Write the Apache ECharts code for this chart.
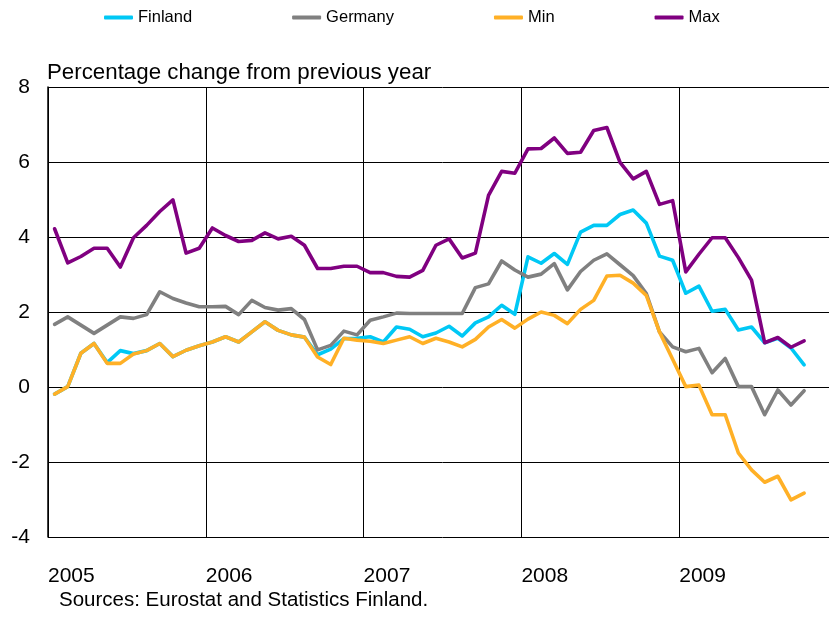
<!DOCTYPE html>
<html>
<head>
<meta charset="utf-8">
<script src="https://cdn.jsdelivr.net/npm/echarts@6/dist/echarts.min.js"></script>
<style>
  html, body { margin: 0; padding: 0; background: #fff; overflow: hidden; }
  /* the plot runs on past the right edge of the window */
  #chart { width: 837px; height: 617px; }
</style>
</head>
<body>
<div id="chart"></div>
<script>
// Monthly inflation, percentage change from previous year, Jan 2005 – Oct 2009
const years = ['2005', '2006', '2007', '2008', '2009'];
const monthNames = ['01', '02', '03', '04', '05', '06', '07', '08', '09', '10', '11', '12'];
const yTicks = [-4, -2, 0, 2, 4, 6, 8];

const finland = [
  -0.19, 0.01, 0.90, 1.16, 0.65, 0.97, 0.89, 0.97, 1.16, 0.81, 0.98, 1.10,
  1.20, 1.34, 1.20, 1.47, 1.74, 1.51, 1.39, 1.33, 0.86, 1.01, 1.29, 1.30,
  1.34, 1.20, 1.60, 1.54, 1.34, 1.44, 1.62, 1.36, 1.71, 1.87, 2.18, 1.94,
  3.47, 3.30, 3.56, 3.27, 4.13, 4.31, 4.31, 4.60, 4.72, 4.37, 3.49, 3.38,
  2.50, 2.69, 2.02, 2.07, 1.52, 1.60, 1.18, 1.30, 1.04, 0.59
];
const germany = [
  1.67, 1.87, 1.65, 1.43, 1.65, 1.87, 1.83, 1.93, 2.54, 2.36, 2.24, 2.14,
  2.14, 2.15, 1.93, 2.31, 2.12, 2.05, 2.09, 1.80, 0.99, 1.11, 1.49, 1.39,
  1.78, 1.87, 1.97, 1.96, 1.96, 1.96, 1.96, 1.96, 2.65, 2.75, 3.36, 3.12,
  2.93, 3.01, 3.29, 2.59, 3.08, 3.38, 3.55, 3.26, 2.97, 2.49, 1.47, 1.07,
  0.94, 1.03, 0.38, 0.76, 0.01, 0.01, -0.74, -0.08, -0.48, -0.10
];
const minimum = [
  -0.19, 0.01, 0.90, 1.16, 0.63, 0.63, 0.88, 0.97, 1.16, 0.81, 0.98, 1.10,
  1.20, 1.34, 1.20, 1.47, 1.74, 1.51, 1.39, 1.33, 0.80, 0.60, 1.30, 1.25,
  1.22, 1.16, 1.25, 1.34, 1.16, 1.30, 1.20, 1.07, 1.27, 1.60, 1.80, 1.57,
  1.81, 2.00, 1.91, 1.69, 2.07, 2.31, 2.96, 2.98, 2.77, 2.44, 1.47, 0.74,
  0.01, 0.05, -0.74, -0.74, -1.76, -2.21, -2.54, -2.38, -3.01, -2.83
];
const maximum = [
  4.22, 3.31, 3.48, 3.70, 3.70, 3.20, 3.98, 4.31, 4.68, 4.99, 3.57, 3.70,
  4.24, 4.04, 3.88, 3.91, 4.11, 3.95, 4.02, 3.78, 3.16, 3.16, 3.22, 3.22,
  3.05, 3.05, 2.95, 2.93, 3.11, 3.78, 3.95, 3.44, 3.57, 5.11, 5.75, 5.70,
  6.35, 6.36, 6.64, 6.23, 6.26, 6.84, 6.92, 5.99, 5.55, 5.75, 4.87, 4.97,
  3.07, 3.54, 3.98, 3.98, 3.45, 2.85, 1.18, 1.32, 1.06, 1.23
];

// one category per month over the five years shown on the axis
const months = [];
years.forEach(y => monthNames.forEach(m => months.push(y + 'M' + m)));

const FONT = '"Liberation Sans", Arial, sans-serif';
const colors = {
  Finland: '#00C8F5',
  Germany: '#808080',
  Min: '#FFB026',
  Max: '#800080'
};

function lineSeries(name, data) {
  return {
    name: name,
    type: 'line',
    xAxisIndex: 0,
    data: data,
    showSymbol: false,
    symbol: 'none',
    lineStyle: { width: 3.6, color: colors[name], join: 'round', cap: 'round' },
    itemStyle: { color: colors[name] },
    emphasis: { disabled: true }
  };
}

const chart = echarts.init(document.getElementById('chart'), null, { renderer: 'canvas' });
chart.setOption({
  animation: false,
  backgroundColor: '#ffffff',
  title: [
    {
      text: 'Percentage change from previous year',
      left: 47, top: 62, padding: 0,
      textStyle: { fontFamily: FONT, fontSize: 22.3, fontWeight: 'normal', color: '#000' }
    },
    {
      text: 'Sources: Eurostat and Statistics Finland.',
      left: 59, top: 590, padding: 0,
      textStyle: { fontFamily: FONT, fontSize: 20.5, fontWeight: 'normal', color: '#000' }
    }
  ],
  legend: {
    data: ['Finland', 'Germany', 'Min', 'Max'],
    left: 104,
    top: 9,
    padding: 0,
    itemGap: 100,
    itemWidth: 29,
    itemHeight: 4,
    icon: 'roundRect',
    textStyle: { fontFamily: FONT, fontSize: 16.5, color: '#000' }
  },
  grid: { left: 48, top: 87, right: 0, height: 450, containLabel: false },
  xAxis: [
    {
      type: 'category',
      data: months,
      boundaryGap: true,
      position: 'bottom',
      axisLine: { show: false },
      axisTick: { show: false },
      axisLabel: { show: false },
      splitLine: {
        show: true,
        interval: (idx) => idx % 12 === 0,
        lineStyle: { color: '#000', width: 1 }
      }
    },
    {
      // year labels sit at the start of each year's block of months
      type: 'value',
      position: 'bottom',
      min: 0,
      max: months.length,
      interval: 12,
      axisLine: { show: false },
      axisTick: { show: false },
      splitLine: { show: false },
      axisLabel: {
        showMaxLabel: false,
        align: 'left',
        margin: 29,
        fontFamily: FONT,
        fontSize: 21,
        color: '#000',
        formatter: (v) => years[v / 12] || ''
      }
    }
  ],
  yAxis: {
    type: 'value',
    min: yTicks[0],
    max: yTicks[yTicks.length - 1],
    interval: 2,
    axisLine: { show: true, lineStyle: { color: '#000', width: 1.5 } },
    axisTick: { show: false },
    axisLabel: { fontFamily: FONT, fontSize: 21, color: '#000', margin: 18 },
    splitLine: { show: true, lineStyle: { color: '#000', width: 1 } }
  },
  series: [
    lineSeries('Finland', finland),
    lineSeries('Germany', germany),
    lineSeries('Min', minimum),
    lineSeries('Max', maximum)
  ]
});
</script>
</body>
</html>
